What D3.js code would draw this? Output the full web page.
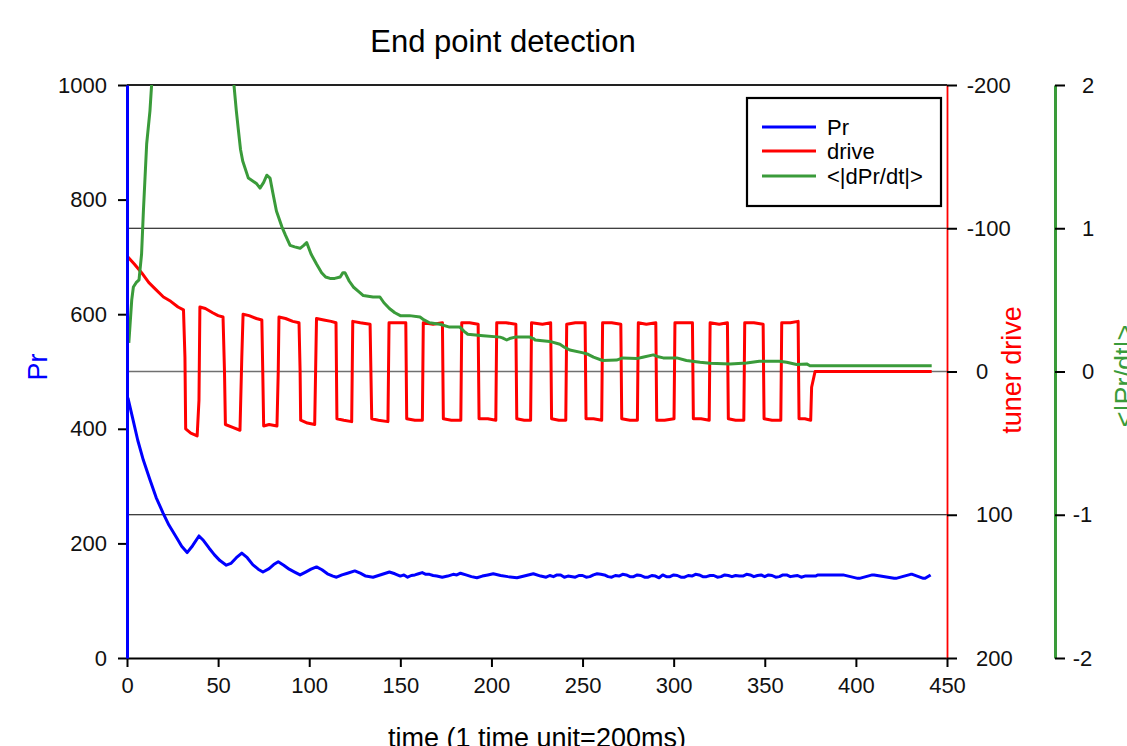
<!DOCTYPE html>
<html>
<head>
<meta charset="utf-8">
<script src="https://cdn.jsdelivr.net/npm/d3@7"></script>
<style>
  html, body { margin: 0; padding: 0; background: #fff; }
  svg { display: block; font-family: "Liberation Sans", Arial, sans-serif; }
</style>
</head>
<body>
<svg id="chart" width="1127" height="746"></svg>
<script>
// ---------- data ----------
const timeTicks  = [0, 50, 100, 150, 200, 250, 300, 350, 400, 450];
const prTicks    = [0, 200, 400, 600, 800, 1000];
const driveTicks = [-200, -100, 0, 100, 200];
const slopeTicks = [-2, -1, 0, 1, 2];

const seriesNames = ["Pr", "drive", "<|dPr/dt|>"];

// Pr (left axis)
const prTime = [0.5, 3, 5.9, 9, 12.6, 16, 19.8, 23, 27.4, 30, 33, 36, 39.5, 42, 45, 48, 51, 54.5, 57, 60, 63, 66, 69, 72, 74.6, 78, 80.5, 83, 86, 89, 92, 95, 98, 101, 104, 107, 110, 113, 115, 118, 121, 125, 128, 131, 135, 138, 141, 144, 147, 150, 152, 154, 156, 158, 160, 162, 164, 166, 168, 170, 173, 176, 179, 181, 183, 186, 189, 192, 195, 198, 201, 205, 209, 214, 218, 223, 227, 230, 232, 234, 236, 238, 240, 242, 246, 248, 250, 252, 254, 256, 258, 260, 262, 264, 266, 268, 270, 272, 274, 276, 278, 280, 282, 284, 286, 288, 290, 292, 294, 296, 298, 300, 302, 304, 306, 308, 310, 312, 314, 316, 318, 320, 322, 324, 326, 328, 330, 332, 334, 336, 338, 340, 342, 344, 346, 348, 350, 352, 354, 356, 358, 360, 362, 364, 366, 368, 370, 372, 378, 379, 392, 393, 401, 402, 409, 410, 421, 422, 430, 431, 437, 438, 441];
const prValue = [454, 420, 380, 345, 311, 280, 253, 232, 209, 195, 184, 196, 213, 205, 192, 180, 170, 162, 165, 175, 183, 175, 163, 155, 150, 156, 163, 168, 162, 155, 150, 145, 150, 155, 159, 154, 147, 143, 141, 145, 148, 152, 148, 143, 141, 144, 147, 150, 147, 143, 145, 141, 144, 145, 147, 149, 146, 146, 144, 143, 141, 143, 146, 145, 148, 145, 142, 140, 143, 145, 147, 144, 142, 140, 143, 147, 143, 141, 144, 142, 145, 145, 141, 143, 141, 144, 144, 141, 142, 145, 147, 146, 145, 142, 141, 144, 143, 146, 145, 142, 142, 145, 144, 141, 141, 144, 143, 140, 145, 142, 142, 145, 144, 141, 141, 144, 143, 146, 145, 142, 142, 144, 144, 141, 142, 145, 144, 142, 144, 143, 143, 146, 145, 142, 144, 145, 142, 145, 144, 141, 142, 145, 145, 142, 143, 144, 141, 143, 143, 145, 145, 145, 139, 139, 145, 145, 139, 139, 146, 146, 139, 139, 145, 145, 139, 139];

// tuner drive (red axis)
const driveTime = [0.5, 4, 8, 12, 16, 20, 24, 28, 31, 31.8, 32.2, 35, 38.5, 39.5, 40, 43, 47, 50, 52.7, 53.5, 54, 58, 62, 63, 63.7, 67, 71, 74, 74.5, 75, 78, 82.3, 83, 83.4, 87, 91, 94.4, 95, 95.3, 99, 103, 103.5, 104, 108, 112, 114.7, 115.2, 119, 123.3, 123.9, 128, 133.4, 134.3, 138, 143.2, 143.8, 148, 153, 153.5, 158, 162.1, 162.6, 168, 173.1, 173.6, 178, 183.2, 183.7, 188, 192.7, 193.2, 198, 202.4, 202.9, 208, 213.4, 213.9, 218, 221.5, 222, 228, 232.5, 233, 237, 240.8, 241.3, 246, 251.4, 251.9, 256, 260.5, 261, 266, 271, 271.5, 276, 280.1, 280.6, 285, 290.2, 290.7, 295, 300.2, 300.7, 305, 310.3, 310.8, 315, 319.5, 320, 325, 329.5, 330, 334, 338.5, 339, 344, 349.1, 349.6, 354, 358.8, 359.3, 364, 368.3, 368.8, 372, 375.2, 375.7, 377.6, 441.6];
const driveValue = [-80, -75, -69, -62, -57, -52, -49, -45, -43, -10, 40, 43, 45, 20, -45, -44, -41, -39, -38, 0, 37, 39, 41, -10, -40, -39, -37, -36, 0, 38, 37, 38, 0, -38, -37, -35, -34, 0, 34, 36, 37, 0, -37, -36, -35, -34, 33, 34, 35, -35, -34, -33, 33, 34, 35, -34, -34, -34, 33, 34, 34, -34, -33, -34, 33, 34, 34, -34, -34, -33, 33, 33, 34, -34, -34, -33, 33, 34, 34, -34, -33, -34, 33, 34, 34, -33, -34, -34, 33, 33, 34, -34, -34, -33, 33, 34, 34, -34, -33, -34, 34, 34, 33, -34, -34, -34, 33, 33, 34, -34, -33, -34, 33, 34, 34, -34, -34, -33, 33, 34, 34, -34, -34, -35, 33, 33, 34, 11, 0, 0];

// <|dPr/dt|> (green axis)
const slopeTime = [1, 2.6, 3.5, 5, 6.6, 8, 9, 10.8, 12.6, 13.5, 14.5, 58, 58.7, 60, 61, 62.3, 63.5, 66.6, 69, 71.2, 73, 75, 76.7, 78.5, 80, 82, 85, 87, 89.5, 92, 95, 97, 98.6, 101, 104, 106.8, 109, 111.4, 114, 117, 118.5, 119.6, 122, 124.2, 127, 129.7, 135, 138.8, 141, 144, 147, 150, 155, 160.8, 163, 166, 171.7, 177, 182.7, 185, 187, 195.5, 204.7, 206, 208.4, 210, 213, 221, 223, 224, 232, 237.6, 240, 243, 250.4, 253, 256, 261, 268.7, 272, 279.7, 283, 288.8, 291, 294.3, 301.7, 307, 314.5, 320, 331, 340, 347, 358, 362, 367.5, 373, 374.8, 441.6];
const slopeValue = [0.2, 0.5, 0.59, 0.62, 0.64, 0.82, 1.12, 1.59, 1.82, 2.0, 2.3, 2.3, 2.0, 1.82, 1.7, 1.55, 1.47, 1.35, 1.33, 1.31, 1.28, 1.32, 1.37, 1.35, 1.25, 1.12, 1.01, 0.95, 0.88, 0.87, 0.86, 0.88, 0.90, 0.82, 0.75, 0.69, 0.66, 0.65, 0.65, 0.66, 0.69, 0.69, 0.63, 0.59, 0.56, 0.53, 0.52, 0.52, 0.48, 0.44, 0.41, 0.39, 0.39, 0.38, 0.36, 0.34, 0.33, 0.31, 0.31, 0.28, 0.26, 0.25, 0.24, 0.235, 0.22, 0.23, 0.24, 0.24, 0.23, 0.22, 0.21, 0.19, 0.17, 0.15, 0.13, 0.12, 0.10, 0.077, 0.08, 0.095, 0.09, 0.10, 0.116, 0.105, 0.095, 0.095, 0.077, 0.065, 0.058, 0.053, 0.06, 0.072, 0.072, 0.065, 0.049, 0.053, 0.04, 0.04];

// ---------- chart ----------
const BLUE = "#0000ff", RED = "#ff0000", GREEN = "#3a9b3a";
const svg = d3.select("#chart");
const L = 127, R = 947, T = 85, B = 658;

const x = d3.scaleLinear().domain([0, 450]).range([L, R]);
const yPr = d3.scaleLinear().domain([0, 1000]).range([B, T]);
const yDr = d3.scaleLinear().domain([-200, 200]).range([T, B]);
const yG = d3.scaleLinear().domain([-2, 2]).range([B, T]);

svg.append("defs").append("clipPath").attr("id", "plotclip")
  .append("rect").attr("x", L).attr("y", T).attr("width", R - L).attr("height", B - T);

// grid lines (at tuner drive ticks)
svg.append("g").selectAll("line")
  .data(driveTicks.filter(d => d > -200 && d < 200))
  .join("line")
  .attr("x1", L).attr("x2", R)
  .attr("y1", d => yDr(d)).attr("y2", d => yDr(d))
  .attr("stroke", d => d === 0 ? "#707070" : "#000")
  .attr("stroke-width", d => d === 0 ? 1.6 : 1.2);

// top frame
svg.append("line").attr("x1", L).attr("x2", R).attr("y1", T).attr("y2", T)
  .attr("stroke", "#222").attr("stroke-width", 1.8);

const plot = svg.append("g").attr("clip-path", "url(#plotclip)");
const zip = (a, b) => a.map((t, i) => [t, b[i]]);
const LW = 3;

plot.append("path").datum(zip(prTime, prValue))
  .attr("fill", "none").attr("stroke", BLUE).attr("stroke-width", LW).attr("stroke-linejoin", "round")
  .attr("d", d3.line().x(d => x(d[0])).y(d => yPr(d[1])));

plot.append("path").datum(zip(driveTime, driveValue))
  .attr("fill", "none").attr("stroke", RED).attr("stroke-width", LW).attr("stroke-linejoin", "round")
  .attr("d", d3.line().x(d => x(d[0])).y(d => yDr(d[1])));

plot.append("path").datum(zip(slopeTime, slopeValue))
  .attr("fill", "none").attr("stroke", GREEN).attr("stroke-width", LW).attr("stroke-linejoin", "round")
  .attr("d", d3.line().x(d => x(d[0])).y(d => yG(d[1])));

const FS = 22;
function styleAxis(g, domainColor, domainWidth) {
  g.selectAll(".tick line").attr("stroke", "#000").attr("stroke-width", 2);
  g.selectAll(".tick text").attr("font-size", FS).attr("fill", "#111")
    .attr("font-family", "'Liberation Sans', Arial, sans-serif");
  g.select(".domain").attr("stroke", domainColor).attr("stroke-width", domainWidth);
}

// bottom axis
const gx = svg.append("g").attr("transform", `translate(0,${B})`)
  .call(d3.axisBottom(x).tickValues(timeTicks).tickSize(9).tickSizeOuter(0).tickPadding(10).tickFormat(d => String(d)));
styleAxis(gx, "#000", 2);

// left axis (Pr)
const gy = svg.append("g").attr("transform", `translate(${L},0)`)
  .call(d3.axisLeft(yPr).tickValues(prTicks).tickSize(9).tickSizeOuter(0).tickPadding(11).tickFormat(d => String(d)));
styleAxis(gy, BLUE, 3);
gy.select(".domain").raise();

// right axis (tuner drive)
const gr = svg.append("g").attr("transform", `translate(${R},0)`)
  .call(d3.axisRight(yDr).tickValues(driveTicks).tickSize(10).tickSizeOuter(0).tickPadding(19).tickFormat(d => String(d)));
styleAxis(gr, RED, 1.8);
gr.selectAll(".tick text").filter(d => d < 0).attr("dx", "-0.42em");

// far right axis (<|dPr/dt|>)
const gg = svg.append("g").attr("transform", "translate(1055,0)")
  .call(d3.axisRight(yG).tickValues(slopeTicks).tickSize(10).tickSizeOuter(0).tickPadding(17).tickFormat(d => String(d)));
styleAxis(gg, GREEN, 3);
gg.selectAll(".tick text").filter(d => d < 0).attr("dx", "-0.42em");

// titles
svg.append("text").attr("x", 503).attr("y", 52).attr("text-anchor", "middle")
  .attr("font-size", 31).attr("fill", "#000").text("End point detection");
svg.append("text").attr("x", 537).attr("y", 747).attr("text-anchor", "middle")
  .attr("font-size", 27).attr("fill", "#000").text("time (1 time unit=200ms)");
svg.append("text").attr("transform", "translate(47,367) rotate(-90)").attr("text-anchor", "middle")
  .attr("font-size", 27).attr("fill", BLUE).text("Pr");
svg.append("text").attr("transform", "translate(1021,370) rotate(-90)").attr("text-anchor", "middle")
  .attr("font-size", 27).attr("fill", RED).text("tuner drive");
svg.append("text").attr("transform", "translate(1134,376) rotate(-90)").attr("text-anchor", "middle")
  .attr("font-size", 27).attr("fill", GREEN).text("<|Pr/dt|>");

// legend
const legend = svg.append("g");
legend.append("rect").attr("x", 747).attr("y", 98).attr("width", 194).attr("height", 108)
  .attr("fill", "#fff").attr("stroke", "#000").attr("stroke-width", 2.2);
const colors = [BLUE, RED, GREEN];
const rowY = [127, 151, 176];
seriesNames.forEach((name, i) => {
  legend.append("line").attr("x1", 762).attr("x2", 816).attr("y1", rowY[i]).attr("y2", rowY[i])
    .attr("stroke", colors[i]).attr("stroke-width", 3);
  legend.append("text").attr("x", 827).attr("y", rowY[i]).attr("dy", "0.35em")
    .attr("font-size", 22).attr("fill", "#000").text(name);
});
</script>
</body>
</html>
